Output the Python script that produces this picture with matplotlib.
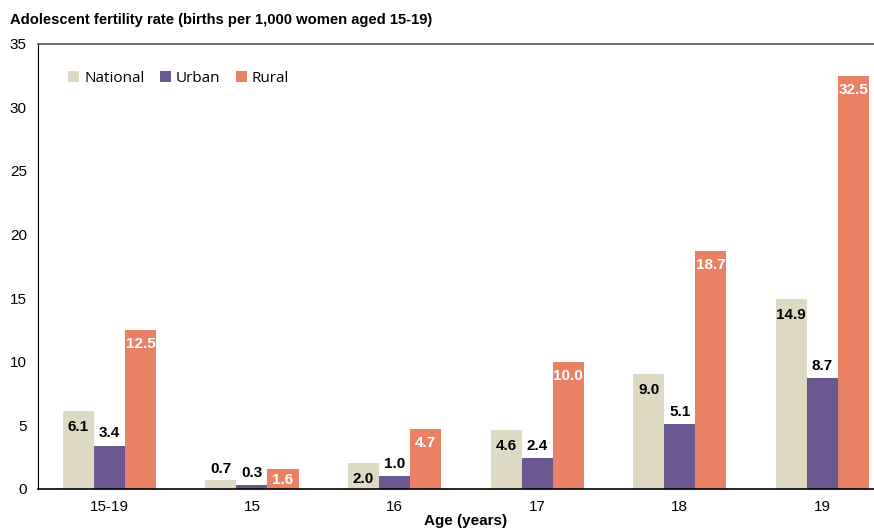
import numpy as np
import matplotlib

matplotlib.use("Agg")
import matplotlib.pyplot as plt

plt.rcParams["font.family"] = ["Liberation Sans", "DejaVu Sans"]

CATEGORIES = ["15-19", "15", "16", "17", "18", "19"]
NATIONAL = [6.1, 0.7, 2.0, 4.6, 9.0, 14.9]
URBAN = [3.4, 0.3, 1.0, 2.4, 5.1, 8.7]
RURAL = [12.5, 1.6, 4.7, 10.0, 18.7, 32.5]

C_NAT = "#DDD9C3"
C_URB = "#6A5890"
C_RUR = "#E98265"


def main() -> None:
    fig = plt.figure(figsize=(8.74, 5.28), dpi=100)
    ax = fig.add_axes([0.0435, 0.074, 0.979, 0.843])
    x = np.arange(len(CATEGORIES))
    w = 0.218

    ax.bar(x - w, NATIONAL, w, color=C_NAT, label="National")
    ax.bar(x, URBAN, w, color=C_URB, label="Urban")
    ax.bar(x + w, RURAL, w, color=C_RUR, label="Rural")

    lab = dict(fontsize=11, fontweight="bold", ha="center")
    # national: inside end, or above when the bar is too short
    for xi, v in zip(x - w, NATIONAL):
        if v < 1.5:
            ax.annotate(f"{v:.1f}", (xi, v), xytext=(0, 3),
                        textcoords="offset points", va="bottom", **lab)
        else:
            ax.annotate(f"{v:.1f}", (xi, v), xytext=(0, -6),
                        textcoords="offset points", va="top", **lab)
    # urban: outside end
    for xi, v in zip(x, URBAN):
        ax.annotate(f"{v:.1f}", (xi, v), xytext=(0, 4),
                    textcoords="offset points", va="bottom", **lab)
    # rural: inside end, white (centred on short bars)
    for xi, v in zip(x + w, RURAL):
        if v < 2.5:
            ax.annotate(f"{v:.1f}", (xi, v / 2), xytext=(0, -1),
                        textcoords="offset points", va="center",
                        color="white", **lab)
        else:
            ax.annotate(f"{v:.1f}", (xi, v), xytext=(0, -5),
                        textcoords="offset points", va="top", color="white",
                        **lab)

    ax.set_xlim(-0.5, len(CATEGORIES) - 0.5)
    ax.set_ylim(0, 35)
    ax.set_yticks(range(0, 36, 5))
    ax.set_xticks(x)
    ax.set_xticklabels(CATEGORIES)
    ax.tick_params(axis="both", length=0, labelsize=11)
    ax.tick_params(axis="x", pad=8)
    ax.tick_params(axis="y", pad=8)
    ax.spines["right"].set_visible(False)
    ax.spines["top"].set_color("#555555")
    ax.spines["top"].set_linewidth(1.2)
    ax.spines["left"].set_color("black")
    ax.spines["bottom"].set_color("black")
    ax.spines["bottom"].set_linewidth(1.2)

    ax.set_xlabel("Age (years)", fontsize=11, fontweight="bold", labelpad=0)
    fig.text(0.011, 0.962, "Adolescent fertility rate (births per 1,000 women aged 15-19)",
             fontsize=10.6, fontweight="bold", va="center", ha="left")

    ax.legend(loc="upper left", bbox_to_anchor=(0.019, 0.97), ncol=3,
              frameon=False, handlelength=0.75, handleheight=0.75,
              handletextpad=0.3, columnspacing=1.0,
              prop={"family": "Open Sans", "size": 11})

    fig.savefig("out.png", dpi=100)


if __name__ == "__main__":
    main()
